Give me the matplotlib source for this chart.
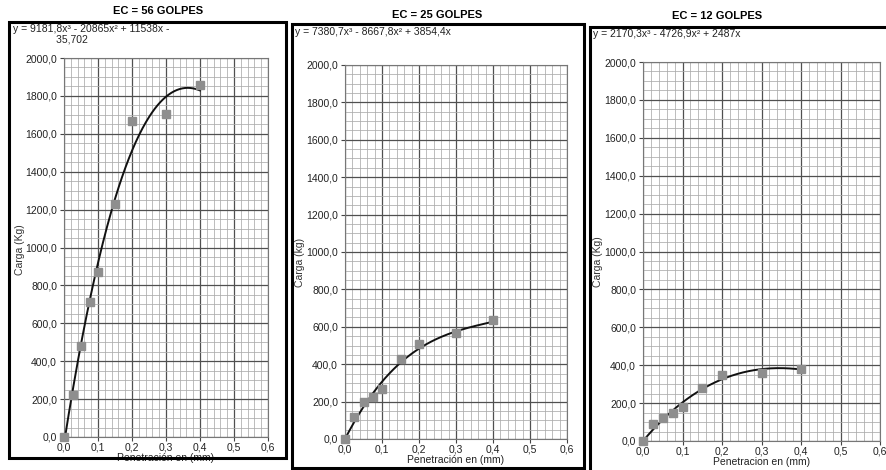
import matplotlib.pyplot as plt
from matplotlib.ticker import MultipleLocator, FuncFormatter
from matplotlib.patches import Rectangle
import numpy as np

plt.rcParams['font.family'] = ['Liberation Sans', 'DejaVu Sans']

# penetracion (mm) - igual para los tres ensayos
penetracion = [0.0, 0.025, 0.05, 0.075, 0.1, 0.15, 0.2, 0.3, 0.4]

carga_56 = [0, 220, 480, 710, 870, 1230, 1665, 1705, 1855]
carga_25 = [0, 118, 198, 225, 267, 428, 508, 567, 636]
carga_12 = [0, 90, 120, 148, 178, 280, 350, 360, 380]

# coeficientes de la linea de tendencia (x^3, x^2, x, cte)
coef_56 = [9181.8, -20865, 11538, -35.702]
coef_25 = [7380.7, -8667.8, 3854.4, 0]
coef_12 = [2170.3, -4726.9, 2487, 0]

titulos = ['EC = 56 GOLPES', 'EC = 25 GOLPES', 'EC = 12 GOLPES']
ecuaciones = ['y = 9181,8x³ - 20865x² + 11538x -\n               35,702',
              'y = 7380,7x³ - 8667,8x² + 3854,4x',
              'y = 2170,3x³ - 4726,9x² + 2487x']
etiquetas_y = ['Carga (Kg)', 'Carga (kg)', 'Carga (Kg)']
etiquetas_x = ['Penetración en (mm)', 'Penetración en (mm)', 'Penetracion en (mm)']

W, H = 886, 470
fig = plt.figure(figsize=(W / 100, H / 100), dpi=100)

def px(x0, y0, x1, y1):
    # caja en pixeles -> fraccion de figura
    return [x0 / W, 1 - y1 / H, (x1 - x0) / W, (y1 - y0) / H]

ejes = [px(64, 58, 268, 437), px(345, 65, 567, 439), px(643, 62, 880, 441)]
marcos = [(9, 22, 286, 458), (292, 24, 584, 468), (590, 27, 889, 473)]
pos_titulo = [(158, 11), (437, 15), (717, 16)]
pos_ecuacion = [(13, 24), (295, 27), (593, 29)]
pos_ylabel = [(20, 250), (300, 262), (598, 262)]

cargas = [carga_56, carga_25, carga_12]
coefs = [coef_56, coef_25, coef_12]

coma = FuncFormatter(lambda v, p: ('%.1f' % v).replace('.', ','))

for k in range(3):
    ax = fig.add_axes(ejes[k])
    ax.set_xlim(0, 0.6)
    ax.set_ylim(0, 2000)
    ax.xaxis.set_major_locator(MultipleLocator(0.1))
    ax.xaxis.set_minor_locator(MultipleLocator(0.02))
    ax.yaxis.set_major_locator(MultipleLocator(200))
    ax.yaxis.set_minor_locator(MultipleLocator(50))
    ax.xaxis.set_major_formatter(coma)
    ax.yaxis.set_major_formatter(coma)
    ax.grid(True, which='major', color='#505050', linewidth=0.9)
    ax.grid(True, which='minor', color='#ababab', linewidth=0.55)
    ax.set_axisbelow(True)
    ax.tick_params(which='major', labelsize=7.5, length=3, pad=2,
                   color='#444444', labelcolor='#222222')
    ax.tick_params(axis='x', pad=1)
    ax.tick_params(which='minor', length=0)
    for s in ax.spines.values():
        s.set_color('#777777')
        s.set_linewidth(0.8)
    ax.set_xlabel(etiquetas_x[k], fontsize=7.5, labelpad=0, color='#222222')

    # linea de tendencia polinomica
    xs = np.linspace(0, max(penetracion), 200)
    ax.plot(xs, np.polyval(coefs[k], xs), color='#111111', linewidth=1.4, zorder=3)
    ax.plot(penetracion, cargas[k], 's', color='#8e8e8e', markersize=6,
            zorder=4, clip_on=False)

    x0, y0, x1, y1 = marcos[k]
    fig.patches.append(Rectangle((x0 / W, 1 - y1 / H), (x1 - x0) / W, (y1 - y0) / H,
                                 transform=fig.transFigure, fill=False,
                                 edgecolor='black', linewidth=2.2))
    fig.text(pos_titulo[k][0] / W, 1 - pos_titulo[k][1] / H, titulos[k],
             ha='center', va='center', fontsize=8, fontweight='bold')
    fig.text(pos_ecuacion[k][0] / W, 1 - pos_ecuacion[k][1] / H, ecuaciones[k],
             ha='left', va='top', fontsize=7.5, color='#222222', linespacing=1.1)
    fig.text(pos_ylabel[k][0] / W, 1 - pos_ylabel[k][1] / H, etiquetas_y[k],
             ha='center', va='center', rotation=90, fontsize=7.5, color='#333333')

fig.savefig('out.png', dpi=100)
